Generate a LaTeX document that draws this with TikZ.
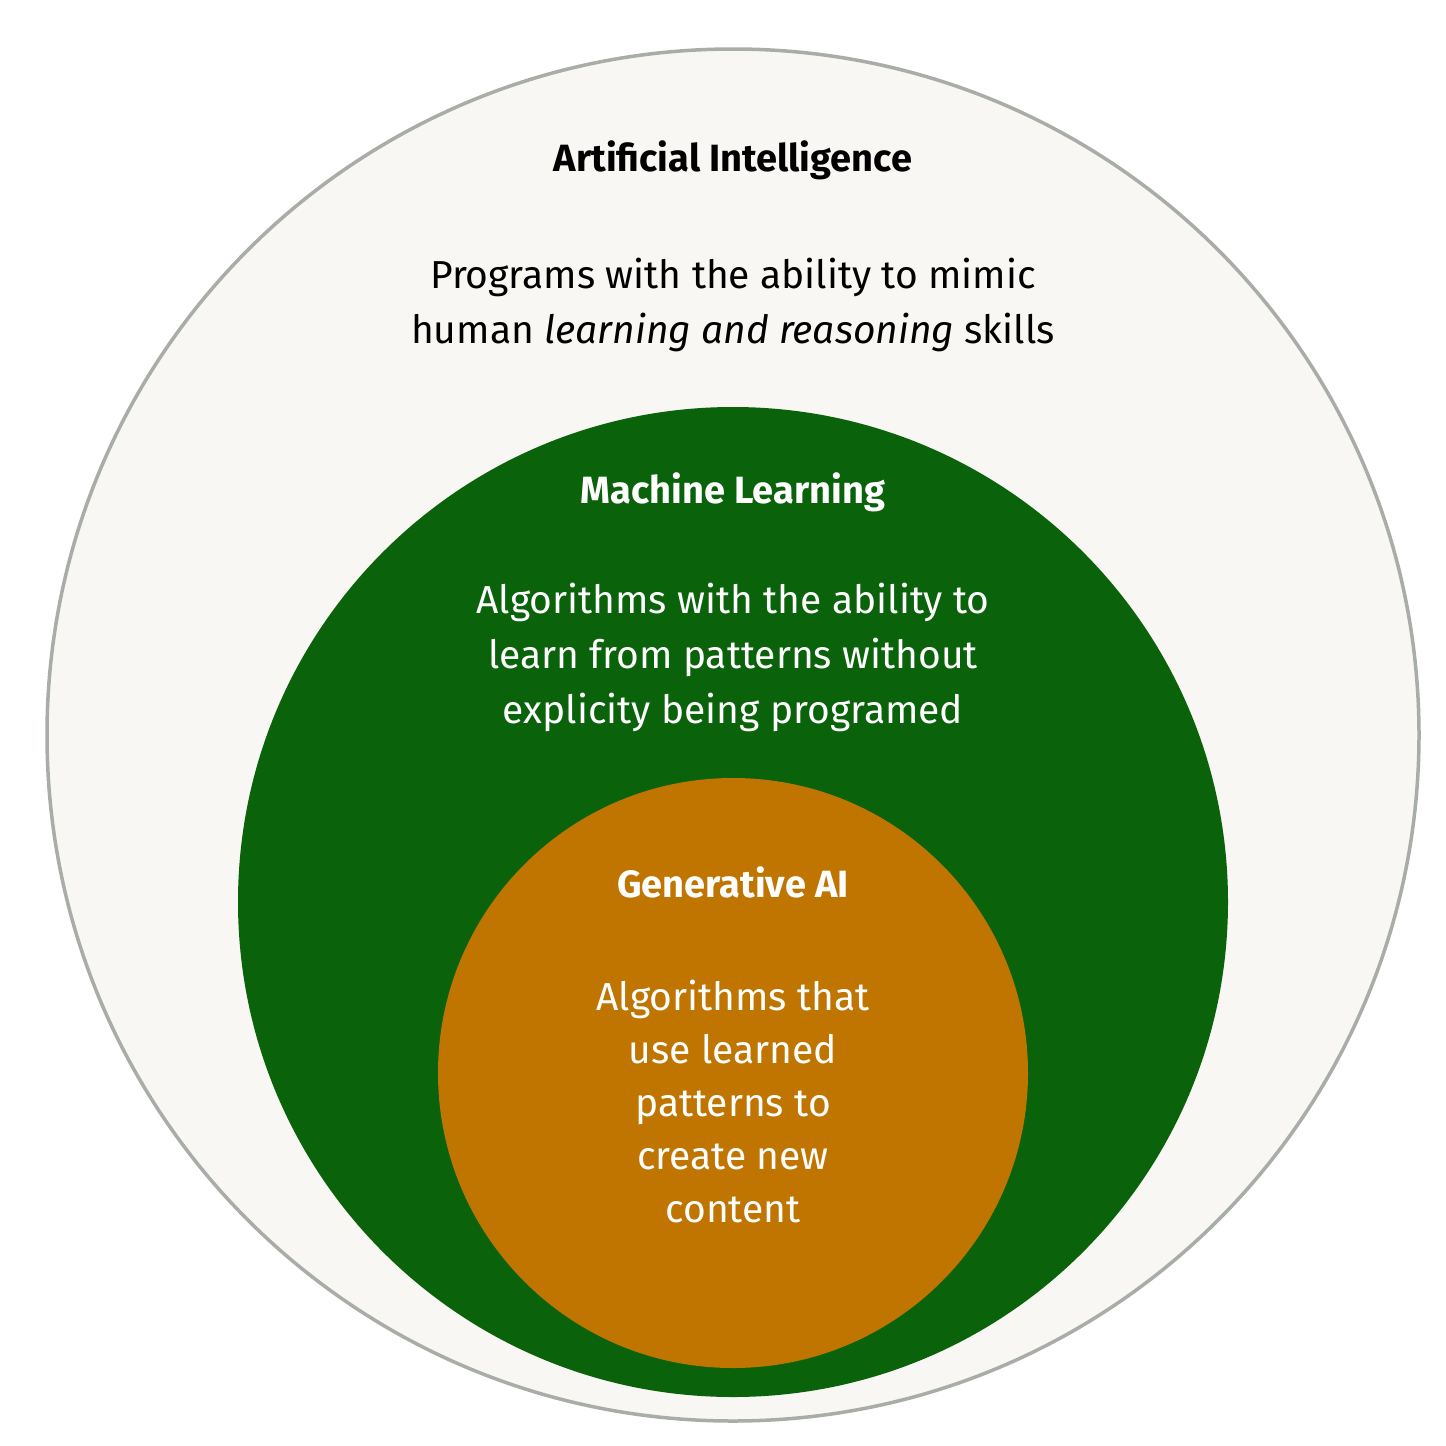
\documentclass[tikz,border=0pt]{standalone}
\usepackage{fontspec}
\setmainfont{Fira Sans}
\definecolor{outerfill}{HTML}{F8F7F3}
\definecolor{outerline}{HTML}{A8ADA8}
\definecolor{mlgreen}{HTML}{0A620A}
\definecolor{genorange}{HTML}{C07500}
\tikzset{
 ttl/.style={font=\fontsize{38}{46}\selectfont\bfseries, align=center},
 body/.style={font=\fontsize{39}{55}\selectfont, align=center},
}
\begin{document}
\begin{tikzpicture}[x=1pt,y=-1pt]
\useasboundingbox (0,0) rectangle (1446,1446);
\fill[white] (0,0) rectangle (1446,1446);
\node[circle, draw=outerline, line width=3.5pt, fill=outerfill, minimum size=1372pt, inner sep=0] (ai) at (733,735) {};
\node[circle, fill=mlgreen, minimum size=990pt, inner sep=0] (ml) at (733,902) {};
\node[circle, fill=genorange, minimum size=590pt, inner sep=0] (gen) at (733,1073) {};
\node[ttl] (aiT) at (733,160) {Artificial Intelligence};
\node[body] (aiB) at (733,305) {Programs with the ability to mimic\\human \textit{learning and reasoning} skills};
\node[ttl, text=white] (mlT) at (733,492) {Machine Learning};
\node[body, text=white] (mlB) at (733,657) {Algorithms with the ability to\\learn from patterns without\\explicity being programed};
\node[ttl, text=white] (genT) at (733,882) {Generative AI};
\node[body, text=white, font=\fontsize{39}{53}\selectfont] (genB) at (733,1102) {Algorithms that\\use learned\\patterns to\\create new\\content};
\end{tikzpicture}
\end{document}
